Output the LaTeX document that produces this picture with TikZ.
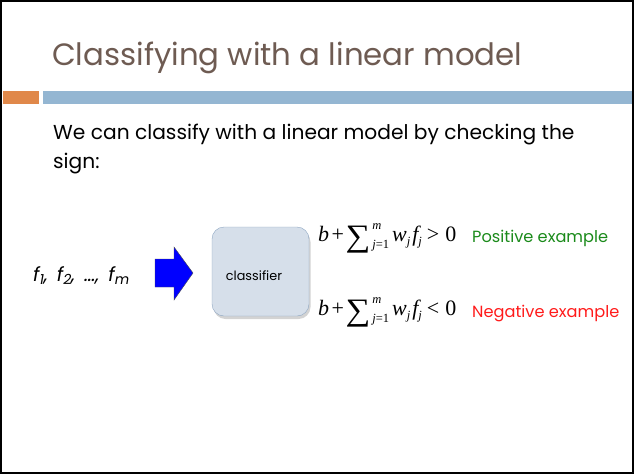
\documentclass[tikz,border=0pt]{standalone}
\usepackage{fontspec}
\usepackage{graphicx}
\setmainfont{Poppins}
\newfontfamily\formfont{Liberation Serif}
\usetikzlibrary{shadows}
\definecolor{titlegray}{HTML}{6E5B52}
\definecolor{barorange}{HTML}{E0884A}
\definecolor{barblue}{HTML}{94B6D2}
\definecolor{boxfill}{HTML}{D6DFEA}
\definecolor{boxedge}{HTML}{8EA6C2}
\definecolor{posgreen}{HTML}{1A8A1A}
\definecolor{negred}{HTML}{FF1A1A}
\tikzset{
  slidetext/.style={inner sep=0pt, anchor=base west},
  result/.style={inner sep=0pt, anchor=base west, font=\fontsize{16.2}{18}\selectfont},
  formula/.style={inner sep=0pt, anchor=base west, font=\formfont\fontsize{22}{24}\selectfont},
}
% small italic index used in the decision rules
\newcommand{\idx}[1]{{\fontsize{12.5}{13}\selectfont\itshape #1}}
% b + sum_{j=1}^m w_j f_j, typeset in a Times-like face
\newcommand{\rulesum}{%
  {\itshape b}\kern2.5pt+\kern1.5pt%
  \raisebox{-5.5pt}{\scalebox{1.45}[1.3]{\fontsize{24}{24}\selectfont\char"2211}}%
  \kern2pt\makebox[0pt][l]{\raisebox{12pt}{\idx{m}}}%
  \raisebox{-7pt}{\idx{j}{\fontsize{12.5}{13}\selectfont=1}}\kern3pt%
  {\itshape w}\raisebox{-4pt}{\idx{j}}\kern2pt{\itshape f}\raisebox{-4pt}{\idx{j}}\kern5pt}
% feature name with a subscript
\newcommand{\feat}[1]{f\raisebox{-3.5pt}{\fontsize{14}{15}\selectfont #1}}
\begin{document}
\begin{tikzpicture}[x=1pt,y=-1pt]
\useasboundingbox (0,0) rectangle (634,474);
% slide frame
\draw[line width=2pt] (1,1) rectangle (633,473);
% title and rule bars
\node[slidetext, text=titlegray, font=\fontsize{30.8}{36}\selectfont] (title) at (52,65) {Classifying with a linear model};
\fill[barorange] (3,91) rectangle (39,104);
\fill[barblue] (43,91) rectangle (632,104);
% body text
\node[slidetext, font=\fontsize{20.2}{24}\selectfont] (line1) at (53,139) {We can classify with a linear model by checking the};
\node[slidetext, font=\fontsize{20.2}{24}\selectfont] (line2) at (53,168) {sign:};
% features
\node[slidetext, font=\fontsize{19.5}{22}\selectfont\itshape] (feat) at (33,281) {\feat{1},\kern9pt\feat{2},\kern9pt\dots,\kern9pt\feat{m}};
% block arrow
\fill[blue, draw=black!70, line width=0.4pt] (155,259) -- (174,259) -- (174,247) -- (193,273) -- (174,300) -- (174,287) -- (155,287) -- cycle;
% classifier box
\node[draw=boxedge, fill=boxfill, rounded corners=12pt, minimum width=97pt, minimum height=89pt,
      drop shadow={shadow xshift=1.5pt, shadow yshift=-3pt, opacity=0.35}] (clf) at (260.5,271.5) {};
\node[slidetext, anchor=base, font=\fontsize{12.8}{14}\selectfont] (clflabel) at (254,280) {classifier};
% decision rules
\node[formula] (pos) at (318,241) {\rulesum>\kern6pt0};
\node[result, text=posgreen] (poslab) at (472,242) {Positive example};
\node[formula] (neg) at (318,315) {\rulesum<\kern6pt0};
\node[result, text=negred] (neglab) at (472,317) {Negative example};
\end{tikzpicture}
\end{document}
